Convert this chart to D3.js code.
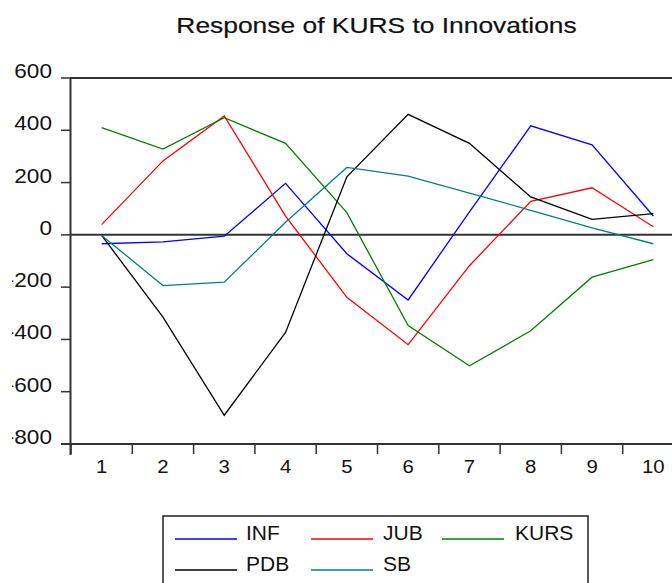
<!DOCTYPE html>
<html>
<head>
<meta charset="utf-8">
<script src="https://cdn.jsdelivr.net/npm/d3@7"></script>
<style>
  html, body { margin: 0; padding: 0; background: #fff; }
  svg { display: block; }
  text { font-family: "Liberation Sans", Arial, sans-serif; fill: #111; }
</style>
</head>
<body>
<svg id="chart" width="672" height="583"></svg>
<script>
// ---- data ----
const periods = [1, 2, 3, 4, 5, 6, 7, 8, 9, 10];
const yTicks = [-800, -600, -400, -200, 0, 200, 400, 600];
const INF  = [-34, -27, -5, 197, -72, -249, 88, 417, 344, 72];
const JUB  = [39, 283, 455, 72, -239, -420, -118, 128, 180, 31];
const KURS = [410, 328, 448, 350, 85, -347, -501, -367, -162, -95];
const PDB  = [-2, -315, -690, -373, 222, 461, 350, 145, 59, 81];
const SB   = [-2, -194, -181, 48, 258, 225, 160, 94, 27, -34];
const seriesNames = ["INF", "JUB", "KURS", "PDB", "SB"];
const seriesColors = ["#0000ff", "#ff0000", "#008000", "#000000", "#008080"];
const seriesValues = [INF, JUB, KURS, PDB, SB];
const title = "Response of KURS to Innovations";

(function () {
// ---- layout ----
const svg = d3.select("#chart");
const pLeft = 71, pRight = 684, pTop = 78, pBottom = 444;
const x = d3.scaleBand().domain(periods).range([pLeft, pRight]).paddingInner(0).paddingOuter(0);
const y = d3.scaleLinear().domain([-800, 600]).range([pBottom, pTop]);
const axisColor = "#333";

// title
svg.append("text")
  .attr("transform", "translate(376.5,33) scale(1.2,1)")
  .attr("text-anchor", "middle")
  .style("font-size", "22px")
  .style("stroke", "#111").style("stroke-width", "0.2px")
  .text(title);

// clip for y labels (minus signs are cut off at left edge in the reference)
svg.append("defs").append("clipPath").attr("id", "ylabclip")
  .append("rect").attr("x", 12).attr("y", 0).attr("width", 60).attr("height", 583);

// y ticks and labels
svg.append("g").selectAll("line").data(yTicks).enter().append("line")
  .attr("x1", 61).attr("x2", 70).attr("y1", d => y(d)).attr("y2", d => y(d))
  .attr("stroke", axisColor).attr("stroke-width", 1.5);
const ylab = svg.append("g").attr("clip-path", "url(#ylabclip)");
ylab.selectAll("text").data(yTicks).enter().append("text")
  .attr("transform", d => `translate(52,${y(d)}) scale(1.13,1)`)
  .attr("text-anchor", "end")
  .style("font-size", "20px")
  .text(d => String(d));

// top border
svg.append("line").attr("x1", 70).attr("x2", 672).attr("y1", y(600)).attr("y2", y(600))
  .attr("stroke", axisColor).attr("stroke-width", 2);
// bottom axis
svg.append("line").attr("x1", 61).attr("x2", 672).attr("y1", y(-800)).attr("y2", y(-800))
  .attr("stroke", axisColor).attr("stroke-width", 2);
// left axis
svg.append("line").attr("x1", 70.5).attr("x2", 70.5).attr("y1", y(600)).attr("y2", y(-800) + 11)
  .attr("stroke", axisColor).attr("stroke-width", 2);

// x ticks at band edges
svg.append("g").selectAll("line").data(periods).enter().append("line")
  .attr("x1", d => x(d)).attr("x2", d => x(d))
  .attr("y1", y(-800)).attr("y2", y(-800) + 10)
  .attr("stroke", axisColor).attr("stroke-width", 1.5);
// x labels at band centers
svg.append("g").selectAll("text").data(periods).enter().append("text")
  .attr("transform", d => `translate(${x(d) + x.bandwidth() / 2},473) scale(1.1,1)`)
  .attr("text-anchor", "middle")
  .style("font-size", "18.5px")
  .text(d => d);

// zero line
svg.append("line").attr("x1", 70).attr("x2", 672).attr("y1", y(0)).attr("y2", y(0))
  .attr("stroke", axisColor).attr("stroke-width", 2);

// series lines
const line = d3.line()
  .x((d, i) => x(periods[i]) + x.bandwidth() / 2)
  .y(d => y(d));
seriesValues.forEach((vals, k) => {
  svg.append("path")
    .datum(vals)
    .attr("d", line)
    .attr("fill", "none")
    .attr("stroke", seriesColors[k])
    .attr("stroke-width", 1.3);
});

// legend
const lg = svg.append("g");
lg.append("rect").attr("x", 163).attr("y", 516).attr("width", 425).attr("height", 80)
  .attr("fill", "none").attr("stroke", "#222").attr("stroke-width", 1.5);
const legPos = [
  {lx: 175, tx: 246, ly: 539, ty: 540},
  {lx: 311, tx: 383, ly: 539, ty: 540},
  {lx: 442, tx: 515, ly: 539, ty: 540},
  {lx: 175, tx: 246, ly: 570, ty: 571},
  {lx: 311, tx: 383, ly: 570, ty: 571}
];
seriesNames.forEach((name, k) => {
  const p = legPos[k];
  lg.append("line").attr("x1", p.lx).attr("x2", p.lx + 62).attr("y1", p.ly).attr("y2", p.ly)
    .attr("stroke", seriesColors[k]).attr("stroke-width", 1.5);
  lg.append("text").attr("x", p.tx).attr("y", p.ty)
    .style("font-size", "21px").text(name);
});
})();
</script>
</body>
</html>
